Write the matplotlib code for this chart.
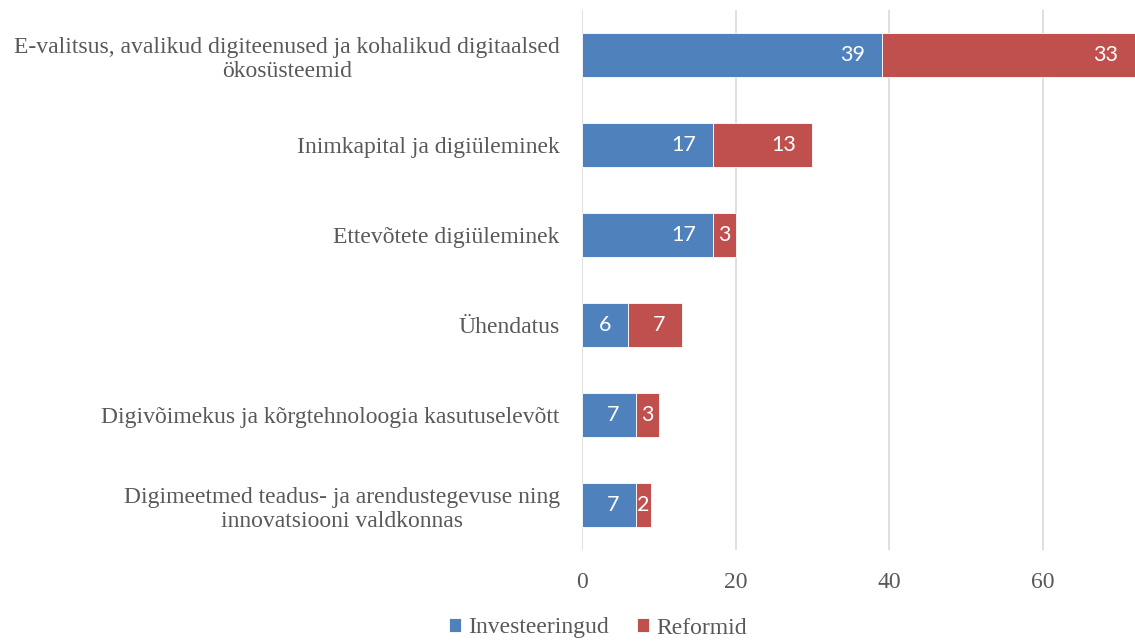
import matplotlib.pyplot as plt
import numpy as np

# Kategooriad (ülevalt alla)
kategooriad = [
    'E-valitsus, avalikud digiteenused ja kohalikud digitaalsed\nökosüsteemid',
    'Inimkapital ja digiüleminek',
    'Ettevõtete digiüleminek',
    'Ühendatus',
    'Digivõimekus ja kõrgtehnoloogia kasutuselevõtt',
    'Digimeetmed teadus- ja arendustegevuse ning\ninnovatsiooni valdkonnas',
]
investeeringud = [39, 17, 17, 6, 7, 7]
reformid = [33, 13, 3, 7, 3, 2]
x_ticks = [0, 20, 40, 60]

sinine = '#4F81BD'
punane = '#C0504D'
hall = '#595959'
fs = 17

plt.rcParams['font.family'] = ['Liberation Serif', 'DejaVu Serif']

fig = plt.figure(figsize=(11.35, 6.42), dpi=100)
ax = fig.add_axes([582/1135, 1 - 550/642, 1 - 582/1135, 540/642])

y = np.arange(len(kategooriad))
h = 0.49
b1 = ax.barh(y, investeeringud, h, color=sinine, edgecolor='white', linewidth=0.6,
             label='Investeeringud', zorder=3)
b2 = ax.barh(y, reformid, h, left=investeeringud, color=punane, edgecolor='white',
             linewidth=0.6, label='Reformid', zorder=3)

# Väärtused tulpade sees (lõpu poole)
for bars, lefts, vals in [(b1, [0]*len(y), investeeringud), (b2, investeeringud, reformid)]:
    for yi, l, v in zip(y, lefts, vals):
        if v >= 5:
            ax.annotate(str(v), (l + v, yi), xytext=(-12, 0), textcoords='offset points',
                        ha='right', va='center', color='white', fontsize=15.5,
                        family='Lato', zorder=4)
        else:
            ax.text(l + v / 2, yi, str(v), ha='center', va='center', color='white',
                    fontsize=15.5, family='Lato', zorder=4)

ax.set_xlim(0, 72)
ax.set_ylim(len(y) - 0.5, -0.5)
ax.set_yticks(y)
ax.set_yticklabels(kategooriad, fontsize=fs, color=hall, multialignment='center')
ax.set_xticks(x_ticks)
ax.tick_params(axis='x', length=0, pad=16, labelsize=fs, labelcolor=hall)
ax.tick_params(axis='y', length=0, pad=16)
ax.xaxis.grid(True, color='#D9D9D9', linewidth=1.2, zorder=0)
ax.set_axisbelow(True)
for s in ax.spines.values():
    s.set_visible(False)

fig.legend(handles=[b1, b2], loc='center', bbox_to_anchor=(598/1135, 1 - 628/642),
           ncol=2, frameon=False, fontsize=fs, handlelength=0.5, handleheight=0.5,
           handletextpad=0.3, columnspacing=1.2, labelcolor=hall)

fig.savefig('out.png', dpi=100)
